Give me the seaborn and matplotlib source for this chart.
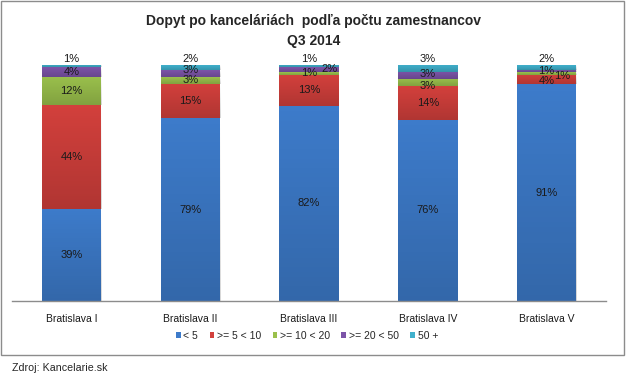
import numpy as np
import pandas as pd
import matplotlib
matplotlib.use('Agg')
import matplotlib.pyplot as plt
from matplotlib.patches import Rectangle, Patch
import seaborn as sns

# data (percent of offices per district)
districts = ['Bratislava I', 'Bratislava II', 'Bratislava III', 'Bratislava IV', 'Bratislava V']
groups = ['< 5', '>= 5 < 10', '>= 10 < 20', '>= 20 < 50', '50 +']
lt5 = [39, 79, 82, 76, 91]
g5_10 = [44, 15, 13, 14, 4]
g10_20 = [12, 3, 1, 3, 1]
g20_50 = [4, 3, 2, 3, 1]
g50 = [1, 2, 1, 3, 2]

colors = ['#3D7BCA', '#D2403C', '#9AC04C', '#7C54A8', '#40B0CC']

df = pd.DataFrame({'district': districts, groups[0]: lt5, groups[1]: g5_10,
                   groups[2]: g10_20, groups[3]: g20_50, groups[4]: g50})
vals = df[groups]
# 100% stacked, like the original
share = vals.div(vals.sum(axis=1), axis=0) * 100
cum = share.cumsum(axis=1)

sns.set_theme(style='white')
plt.rcParams['font.family'] = ['Liberation Sans', 'DejaVu Sans']

fig = plt.figure(figsize=(6.27, 3.80), dpi=100)
W, H = 627, 380
ax = fig.add_axes([12 / W, 1 - 301 / H, 594 / W, 236 / H])

# draw from the top layer down so each lower layer covers the one above
for i in range(len(groups) - 1, -1, -1):
    sns.barplot(x=df['district'], y=cum[groups[i]], color=colors[i], width=0.5,
                saturation=1, ax=ax, linewidth=0)

# Excel-like shading: each segment gets darker towards its bottom
shade = np.zeros((60, 1, 4))
shade[:, 0, 3] = np.linspace(0.0, 0.16, 60)
for k, cont in enumerate(ax.containers):
    i = len(groups) - 1 - k
    for j, bar in enumerate(cont):
        hi = bar.get_height()
        lo = hi - share.iloc[j][groups[i]]
        x0 = bar.get_x()
        ax.imshow(shade, extent=[x0, x0 + bar.get_width(), lo, hi], origin='upper',
                  aspect='auto', zorder=bar.get_zorder() + 0.1, interpolation='bilinear')

# label offsets (pixels) where Excel moved the small labels
offsets = {(1, 3): (0, 3), (2, 3): (21, 1), (3, 2): (0, -3), (3, 3): (0, 2),
           (4, 2): (16, -3), (4, 1): (0, -2)}
for j in range(len(districts)):
    for i, g in enumerate(groups):
        v = vals.iloc[j][g]
        top = cum.iloc[j][g]
        mid = top - share.iloc[j][g] / 2
        if i == len(groups) - 1:
            ax.annotate(f'{v}%', (j, 100), xytext=(0, 1), textcoords='offset pixels',
                        ha='center', va='bottom', fontsize=8, color='#1a1a1a',
                        annotation_clip=False, zorder=5)
        else:
            dx, dy = offsets.get((j, i), (0, 0))
            ax.annotate(f'{v}%', (j, mid), xytext=(dx, dy), textcoords='offset pixels',
                        ha='center', va='center', fontsize=8, color='#1a1a1a',
                        annotation_clip=False, zorder=5)

ax.set_ylim(0, 100)
ax.set_xlim(-0.5, 4.5)
ax.set_xlabel('')
ax.set_ylabel('')
ax.set_yticks([])
ax.tick_params(axis='x', length=0, labelsize=7.5, pad=9, labelcolor='#1a1a1a')
for s in ['top', 'right', 'left']:
    ax.spines[s].set_visible(False)
ax.spines['bottom'].set_color('#8c8c8c')
ax.spines['bottom'].set_linewidth(1)

fig.text(0.5, 1 - 21 / H, 'Dopyt po kanceláriách  podľa počtu zamestnancov',
         ha='center', va='center', fontsize=10, fontweight='bold')
fig.text(0.5, 1 - 41 / H, 'Q3 2014', ha='center', va='center',
         fontsize=10, fontweight='bold')

handles = [Patch(facecolor=c, edgecolor='none') for c in colors]
fig.legend(handles, groups, loc='center', bbox_to_anchor=(307 / W, 1 - 336 / H),
           ncol=5, frameon=False, fontsize=7.5, handlelength=0.45, handleheight=0.45,
           handletextpad=0.25, columnspacing=1.1)

fig.patches.append(Rectangle((1 / W, 1 - 355 / H), 623 / W, 354 / H,
                             transform=fig.transFigure, fill=False,
                             edgecolor='#8c8c8c', linewidth=1))
fig.text(12 / W, 1 - 368 / H, 'Zdroj: Kancelarie.sk', ha='left', va='center', fontsize=7.7)

fig.savefig('out.png', dpi=100)
